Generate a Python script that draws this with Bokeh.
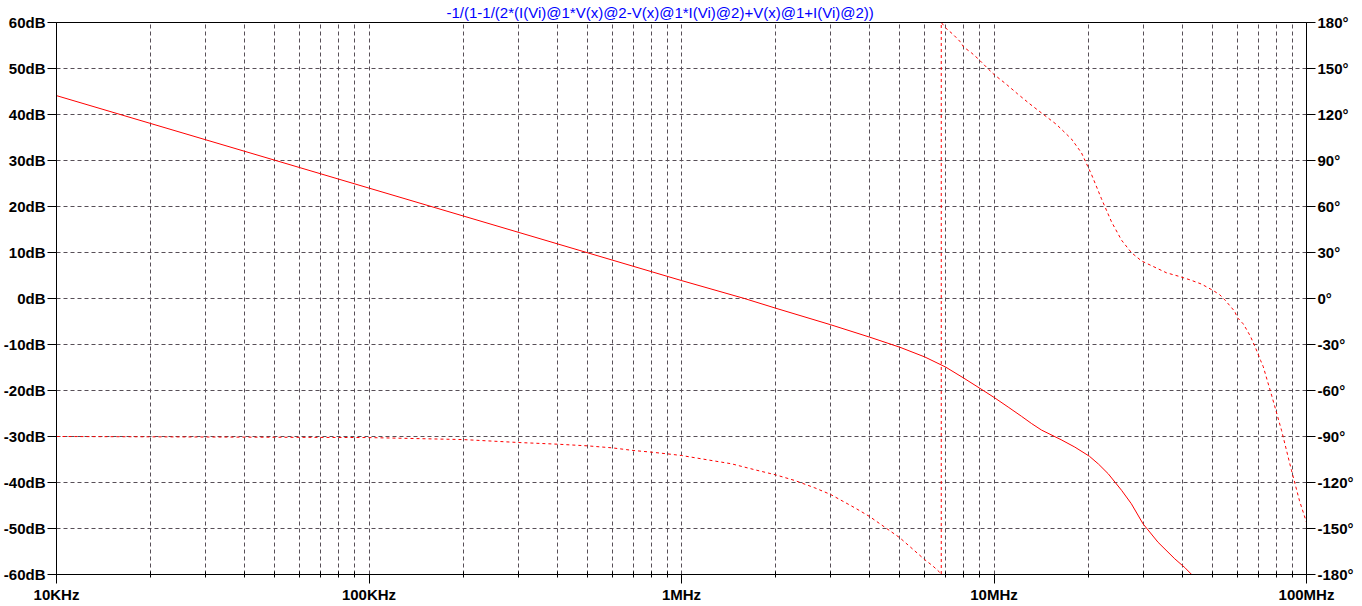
from bokeh.plotting import figure
from bokeh.models import LinearAxis, Range1d, FixedTicker
from bokeh.embed import file_html
from bokeh.resources import INLINE

TITLE = "-1/(1-1/(2*(I(Vi)@1*V(x)@2-V(x)@1*I(Vi)@2)+V(x)@1+I(Vi)@2))"

# x axis (frequency, Hz)
x_ticks = [1e4, 1e5, 1e6, 1e7, 1e8]
x_labels = ["10KHz", "100KHz", "1MHz", "10MHz", "100MHz"]
x_minor = [m * 10 ** e for e in range(4, 8) for m in range(2, 10)]

# left axis (magnitude)
db_ticks = list(range(-60, 61, 10))
db_labels = [f"{v}dB" for v in db_ticks]

# right axis (phase)
deg_ticks = list(range(-180, 181, 30))
deg_labels = [f"{v}\u00b0" for v in deg_ticks]

# magnitude (solid)
mag_freq = [1e4, 1e5, 1e6, 1.59e6, 2e6, 3e6, 4e6, 5e6, 6e6, 7e6, 8e6, 9e6, 10e6,
            11.1e6, 12.24e6, 13.2e6, 14.19e6, 16.4e6, 18.14e6, 20.2e6, 21.6e6, 23.2e6,
            25.6e6, 27.5e6, 30.0e6, 33.5e6, 37.9e6, 40.8e6, 42.9e6, 50e6]
mag_db = [44.1, 24.0, 3.9, 0.0, -2.1, -5.7, -8.4, -10.6, -12.7, -14.9, -17.3, -19.5, -21.5,
          -23.6, -25.6, -27.2, -28.6, -30.7, -32.3, -34.3, -36.0, -38.1,
          -41.7, -44.6, -49.0, -53.0, -56.6, -58.5, -60.0, -64.0]

# phase (dashed)
phase_freq = [1e4, 1e5, 2e5, 3e5, 4e5, 5e5, 6e5, 7e5, 8e5, 9e5, 1e6,
              1.445e6, 1.717e6, 2e6, 2.305e6, 2.671e6, 3e6, 3.585e6, 4e6, 5e6, 6e6,
              6.36e6, 6.66e6, 6.78e6, 6.78e6, 7e6, 7.40e6, 7.77e6, 8e6, 8.47e6, 8.90e6,
              9.627e6, 10e6, 10.91e6, 11.89e6, 13.0e6, 14.19e6, 15.85e6, 17.7e6, 19.05e6,
              20.5e6, 22.08e6, 23.77e6, 25.6e6, 27.5e6, 29.65e6, 32.3e6, 35.6e6,
              38.86e6, 42.34e6, 46.13e6, 50.28e6, 52.8e6, 54.8e6, 56.8e6, 58.96e6,
              60e6, 62.7e6, 64.3e6, 66.2e6, 68.7e6, 71.3e6, 72.7e6, 77.3e6, 83.2e6,
              89.5e6, 95.0e6, 100e6]
phase_deg = [-90.0, -90.7, -92.0, -93.9, -95.0, -96.1, -97.4, -99.1, -100.2, -101.3, -102.4,
             -107.8, -111.7, -115.0, -118.7, -123.5, -127.8, -136.5, -142.2, -156.1, -170.3,
             -174.3, -178.0, -180.0, 180.0, 176.5, 172.2, 167.8, 164.0, 160.2, 156.3,
             149.3, 146.1, 140.0, 133.5, 127.0, 121.0, 113.5, 104.0, 95.0,
             81.0, 65.0, 50.0, 38.0, 30.0, 24.5, 20.9, 16.8,
             14.6, 12.2, 9.4, 5.2, 2.4, -0.9, -4.6, -8.5,
             -12.3, -16.5, -20.2, -24.8, -32.2, -40.4, -44.4, -63.0, -86.0,
             -112.0, -132.0, -146.0]

FONT = "Liberation Sans"
GRID = "#574f57"

p = figure(frame_width=1250, frame_height=552, x_axis_type="log",
           x_range=Range1d(1e4, 1e8), y_range=Range1d(-60, 60),
           output_backend="svg", toolbar_location=None,
           min_border_left=55, min_border_right=52, min_border_top=22, min_border_bottom=0,
           title=TITLE)
p.extra_y_ranges = {"phase": Range1d(-180, 180)}

p.title.align = "left"
p.title.offset = 390
p.title.standoff = 3
p.title.text_color = "#0000ff"
p.title.text_font = FONT
p.title.text_font_size = "15px"
p.title.text_font_style = "normal"

p.background_fill_color = "white"
p.border_fill_color = "white"
p.outline_line_color = "black"
p.outline_line_alpha = 1.0
p.outline_line_width = 1

# grid
p.xgrid.ticker = FixedTicker(ticks=x_ticks + x_minor)
p.ygrid.ticker = FixedTicker(ticks=db_ticks)
for g in (p.xgrid, p.ygrid):
    g.grid_line_color = GRID
    g.grid_line_dash = "4 3"
    g.grid_line_width = 1

# bottom axis
xa = p.xaxis[0]
xa.ticker = FixedTicker(ticks=x_ticks, minor_ticks=x_minor)
xa.major_label_overrides = {int(t): l for t, l in zip(x_ticks, x_labels)}
xa.major_tick_out = 9
xa.major_tick_in = 0
xa.minor_tick_out = 3
xa.minor_tick_in = 3
xa.major_label_standoff = 2

# left axis
ya = p.yaxis[0]
ya.ticker = FixedTicker(ticks=db_ticks, minor_ticks=[])
ya.major_label_overrides = {t: l for t, l in zip(db_ticks, db_labels)}
ya.major_tick_out = 9
ya.major_tick_in = 0
ya.major_label_standoff = 2

# right axis
ra = LinearAxis(y_range_name="phase", ticker=FixedTicker(ticks=deg_ticks, minor_ticks=[]))
ra.major_label_overrides = {t: l for t, l in zip(deg_ticks, deg_labels)}
ra.major_tick_out = 9
ra.major_tick_in = 0
ra.major_label_standoff = 2
p.add_layout(ra, "right")

for ax in (xa, ya, ra):
    ax.axis_label = None
    ax.axis_label_standoff = 0
    ax.axis_line_color = "black"
    ax.major_tick_line_color = "black"
    ax.minor_tick_line_color = "black"
    ax.major_label_text_font = FONT
    ax.major_label_text_font_size = "15px"
    ax.major_label_text_font_style = "bold"
    ax.major_label_text_color = "black"

p.line(mag_freq, mag_db, line_color="#ff0000", line_width=1)
p.line(phase_freq, phase_deg, y_range_name="phase", line_color="#ff0000",
       line_width=1, line_dash="3 3")

open("out.html", "w").write(file_html(p, INLINE))
